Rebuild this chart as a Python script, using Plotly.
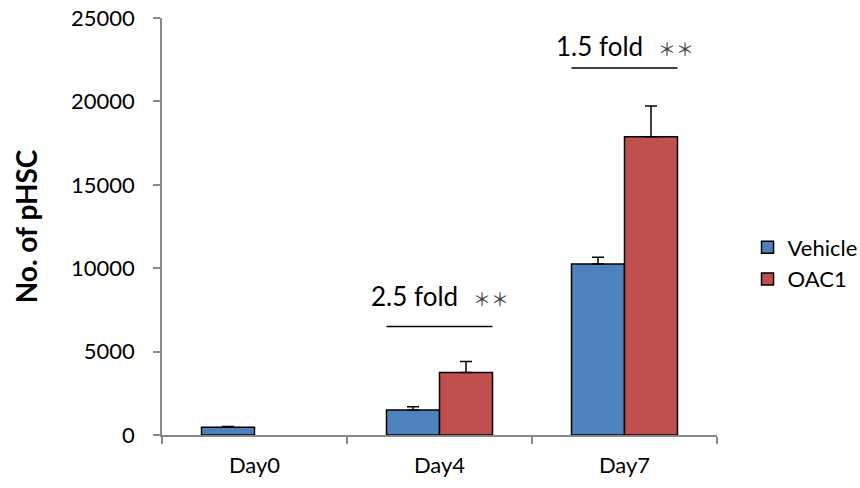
import plotly.graph_objects as go

categories = ["Day0", "Day4", "Day7"]
vehicle = [470, 1500, 10250]
vehicle_err = [40, 200, 400]
oac1 = [0, 3750, 17880]
oac1_err = [0, 650, 1840]
y_ticks = [0, 5000, 10000, 15000, 20000, 25000]

annot_text = ["2.5 fold", "1.5 fold"]
annot_stars = ["＊＊", "＊＊"]
annot_cat = [1, 2]
annot_line_y = [6500, 22000]
annot_text_y = [8350, 23300]

FONT = "Lato, Carlito, Calibri, sans-serif"


def nz(vals, ref=None):
    ref = vals if ref is None else ref
    return [x if r else None for r, x in zip(ref, vals)]


fig = go.Figure()
fig.add_trace(go.Bar(
    name="Vehicle", x=categories, y=nz(vehicle),
    marker=dict(color="#4F81BD", line=dict(color="black", width=1.5)),
    error_y=dict(type="data", array=nz(vehicle_err, vehicle), arrayminus=[0]*3, symmetric=False,
                 color="black", thickness=1.5, width=6),
))
fig.add_trace(go.Bar(
    name="OAC1", x=categories, y=nz(oac1),
    marker=dict(color="#C0504D", line=dict(color="black", width=1.5)),
    error_y=dict(type="data", array=nz(oac1_err, oac1), arrayminus=[0]*3,
                 symmetric=False, color="black", thickness=1.5, width=6),
))

half = 0.5 * (1 - 0.427)
for t, s, c, ly, ty in zip(annot_text, annot_stars, annot_cat, annot_line_y, annot_text_y):
    fig.add_shape(type="line", xref="x", yref="y", x0=c - half, x1=c + half,
                  y0=ly, y1=ly, line=dict(color="black", width=1.5))
    fig.add_annotation(xref="x", yref="y", x=c - 0.135, y=ty, text=t, showarrow=False,
                       font=dict(family=FONT, size=26, color="black"))
    fig.add_annotation(xref="x", yref="y", x=c + 0.28, y=ty - 120, text=s, showarrow=False,
                       font=dict(family="Noto Sans CJK JP", size=18, color="#444444"))

fig.update_layout(
    width=860, height=488,
    margin=dict(l=162, r=143, t=18, b=53, autoexpand=False),
    paper_bgcolor="white", plot_bgcolor="white",
    barmode="group", bargap=0.427, bargroupgap=0,
    font=dict(family=FONT, size=22, color="black"),
    showlegend=True,
    legend=dict(x=1.055, y=0.50, xanchor="left", yanchor="top",
                font=dict(family=FONT, size=22, color="black"),
                itemwidth=30, tracegroupgap=9),
    xaxis=dict(type="category", showline=True, linecolor="#888888", linewidth=1.5,
               ticks="outside", tickson="boundaries", ticklen=7, tickcolor="#888888",
               tickwidth=1.5, showgrid=False, zeroline=False, ticklabelstandoff=10,
               automargin=False,
               tickfont=dict(family=FONT, size=22, color="black")),
    yaxis=dict(range=[0, 25000], tickvals=y_ticks, tickformat="d", showline=True,
               linecolor="#888888", linewidth=1.5, ticks="outside", ticklen=7,
               tickcolor="#888888", tickwidth=1.5, ticklabelstandoff=14,
               showgrid=False, zeroline=False, automargin=False,
               tickfont=dict(family=FONT, size=22, color="black"),
               title=dict(text="<b>No. of pHSC</b>", font=dict(family=FONT, size=28, color="black"),
                          standoff=25)),
)

fig.write_html("out.html")
